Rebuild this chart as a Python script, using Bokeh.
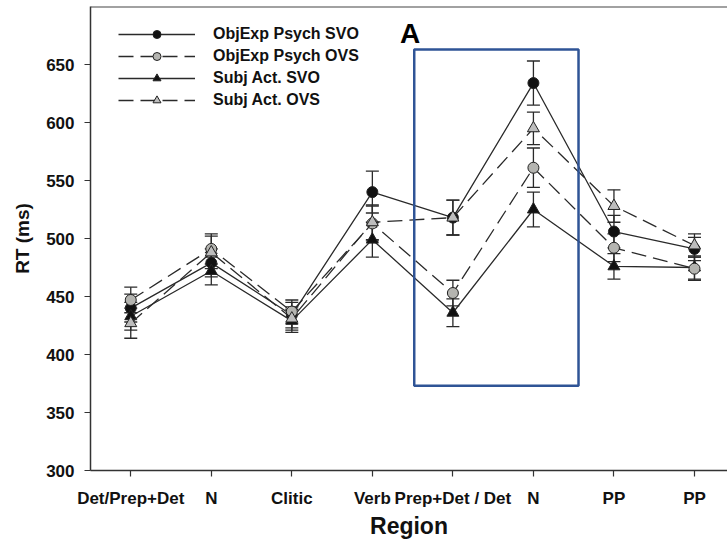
from bokeh.plotting import figure
from bokeh.models import (ColumnDataSource, Whisker, TeeHead, Legend, LegendItem,
                          FixedTicker, Span, BoxAnnotation, Label, Range1d)
from bokeh.embed import file_html
from bokeh.resources import INLINE

# ---- data ----
regions = ["Det/Prep+Det", "N", "Clitic", "Verb", "Prep+Det / Det", "N", "PP", "PP"]
xpos = [1, 2, 3, 4, 5, 6, 7, 8]

objexp_svo = [440, 479, 434, 540, 518, 634, 506, 491]
objexp_ovs = [447, 491, 437, 513, 453, 561, 492, 474]
subj_svo = [433, 472, 429, 499, 436, 525, 476, 475]
subj_ovs = [427, 488, 431, 514, 518, 595, 528, 494]

err_objexp_svo = [12, 12, 11, 18, 15, 19, 14, 10]
err_objexp_ovs = [11, 13, 10, 15, 11, 17, 12, 10]
err_subj_svo = [12, 12, 10, 15, 12, 15, 11, 10]
err_subj_ovs = [13, 14, 10, 15, 15, 14, 14, 10]

series_names = ["ObjExp Psych SVO", "ObjExp Psych OVS", "Subj Act. SVO", "Subj Act. OVS"]

# highlight box (data coords) and panel letter
box_left, box_right, box_bottom, box_top = 4.52, 6.56, 373, 663
panel_letter = "A"
letter_x, letter_y = 4.47, 677

FONT = "'Liberation Sans', Arial, Helvetica, sans-serif"

p = figure(width=727, height=541, output_backend="svg", toolbar_location=None,
           x_range=Range1d(0.5, 8.41), y_range=Range1d(300, 700),
           min_border_left=90, min_border_right=0, min_border_top=6, min_border_bottom=70)
p.background_fill_color = "white"
p.border_fill_color = "white"
p.outline_line_color = None
p.grid.visible = False

line_col = "#2a2a2a"

styles = [
    (objexp_svo, err_objexp_svo, "circle", "#111111", None),
    (subj_svo, err_subj_svo, "triangle", "#111111", None),
    (objexp_ovs, err_objexp_ovs, "circle", "#b4b4b0", "15 7"),
    (subj_ovs, err_subj_ovs, "triangle", "#bdbdbd", "15 7"),
]
order_names = [series_names[0], series_names[2], series_names[1], series_names[3]]

items = {}
for (vals, errs, marker, fill, dash), name in zip(styles, order_names):
    src = ColumnDataSource(dict(x=xpos, y=vals,
                                upper=[v + e for v, e in zip(vals, errs)],
                                lower=[v - e for v, e in zip(vals, errs)]))
    w = Whisker(source=src, base="x", upper="upper", lower="lower",
                line_color=line_col, line_width=1.3,
                upper_head=TeeHead(size=13, line_color=line_col, line_width=1.3),
                lower_head=TeeHead(size=13, line_color=line_col, line_width=1.3))
    p.add_layout(w)
    kw = dict(line_color=line_col, line_width=1.3)
    if dash:
        kw["line_dash"] = dash
    ln = p.line("x", "y", source=src, **kw)
    sc = p.scatter("x", "y", source=src, marker=marker, size=11 if marker == "circle" else 12,
                   fill_color=fill, line_color="#222222", line_width=1)
    items[name] = LegendItem(label=name, renderers=[ln, sc])

legend = Legend(items=[items[n] for n in series_names], location=(28, 360),
                glyph_width=77, glyph_height=20, spacing=2, padding=0, margin=0,
                label_standoff=18, label_text_font=FONT, label_text_font_style="bold",
                label_text_font_size="16px", label_text_color="#111111",
                border_line_color=None, background_fill_alpha=0)
p.add_layout(legend)

# top frame line
p.add_layout(Span(location=700, dimension="width", line_color="#444444", line_width=2))

# highlight box
p.add_layout(BoxAnnotation(left=box_left, right=box_right, bottom=box_bottom, top=box_top,
                           fill_alpha=0, line_color="#2f5496", line_alpha=1.0, line_width=2.5))
p.add_layout(Label(x=letter_x, y=letter_y, text=panel_letter, text_align="center",
                   text_baseline="middle", text_font=FONT, text_font_style="bold",
                   text_font_size="28px", text_color="#000000"))

# axes
p.xaxis.ticker = FixedTicker(ticks=xpos)
p.xaxis.major_label_overrides = {x: r for x, r in zip(xpos, regions)}
p.yaxis.ticker = FixedTicker(ticks=[300, 350, 400, 450, 500, 550, 600, 650])
for ax in (p.xaxis, p.yaxis):
    ax.axis_line_color = "#333333"
    ax.axis_line_width = 1.5
    ax.major_tick_line_color = "#333333"
    ax.major_tick_line_width = 1.2
    ax.major_tick_out = 6
    ax.major_tick_in = 0
    ax.minor_tick_line_color = None
    ax.major_label_text_font = FONT
    ax.major_label_text_font_style = "bold"
    ax.major_label_text_color = "#111111"
    ax.axis_label_text_font = FONT
    ax.axis_label_text_font_style = "bold"
    ax.axis_label_text_color = "#111111"

p.xaxis.axis_label = "Region"
p.xaxis.axis_label_text_font_size = "23px"
p.xaxis.major_label_text_font_size = "17px"
p.xaxis.major_label_standoff = 12
p.xaxis.axis_label_standoff = 2

p.yaxis.axis_label = "RT (ms)"
p.yaxis.axis_label_text_font_size = "19px"
p.yaxis.major_label_text_font_size = "17px"
p.yaxis.major_label_standoff = 10
p.yaxis.axis_label_standoff = 10

open("out.html", "w").write(file_html(p, INLINE))
